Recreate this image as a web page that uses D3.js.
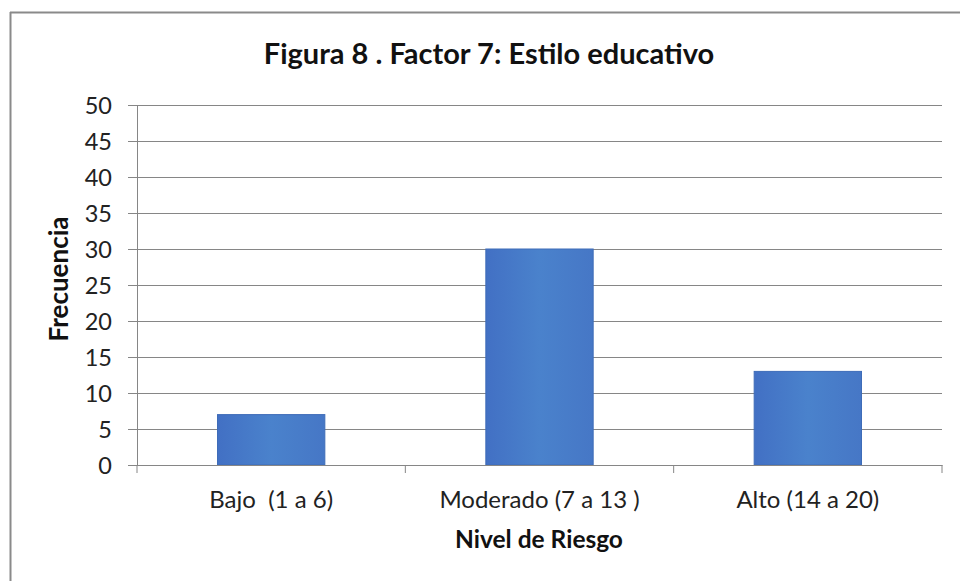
<!DOCTYPE html>
<html><head><meta charset="utf-8">
<script src="https://cdn.jsdelivr.net/npm/d3@7"></script>
<style>body{margin:0;background:#fff} text{white-space:pre}</style>
</head><body>
<svg id="c" width="960" height="581"></svg>
<script>
const categories = ["Bajo  (1 a 6)", "Moderado (7 a 13 )", "Alto (14 a 20)"];
const values = [7, 30, 13];
const yTicks = [0, 5, 10, 15, 20, 25, 30, 35, 40, 45, 50];
const title = "Figura 8 . Factor 7: Estilo educativo";
const yLabel = "Frecuencia";
const xLabel = "Nivel de Riesgo";

const svg = d3.select("#c");
const font = "Lato, 'Open Sans', sans-serif";
const m = {left:137, right:942, top:105, bottom:465};

// frame (left and top edges visible)
svg.append("line").attr("x1",10.5).attr("x2",10.5).attr("y1",12).attr("y2",581).attr("stroke","#8a8a8a").attr("stroke-width",2);
svg.append("line").attr("x1",10).attr("x2",960).attr("y1",12.5).attr("y2",12.5).attr("stroke","#8a8a8a").attr("stroke-width",2);

const x = d3.scaleBand().domain(categories).range([m.left, m.right]).paddingInner(0.6).paddingOuter(0.3);
const xb = d3.scaleBand().domain(categories).range([m.left, m.right]);
const y = d3.scaleLinear().domain([0,50]).range([m.bottom, m.top]);

// gridlines + y axis
const yAxis = d3.axisLeft(y).tickValues(yTicks).tickSize(-(m.right-m.left)).tickPadding(25);
const gy = svg.append("g").attr("transform",`translate(${m.left},0)`).call(yAxis);
gy.select(".domain").attr("stroke","#868686");
gy.selectAll(".tick line").attr("stroke","#868686").attr("x1",-9);
gy.selectAll(".tick text").attr("font-family",font).attr("font-size",23.5).attr("fill","#222").attr("dy","0.34em");

// bars
const defs = svg.append("defs");
const grad = defs.append("linearGradient").attr("id","g").attr("x1",0).attr("x2",1).attr("y1",0).attr("y2",0);
grad.append("stop").attr("offset",0).attr("stop-color","#4270c4");
grad.append("stop").attr("offset",0.5).attr("stop-color","#4a82cc");
grad.append("stop").attr("offset",1).attr("stop-color","#4677c6");
svg.selectAll("rect.bar").data(values).join("rect").attr("class","bar")
  .attr("x",(d,i)=>x(categories[i])).attr("width",x.bandwidth())
  .attr("y",d=>y(d)).attr("height",d=>y(0)-y(d))
  .attr("fill","url(#g)").attr("stroke","#3e6cb8").attr("stroke-width",1);

// x axis
const xAxis = d3.axisBottom(xb).tickSize(0).tickPadding(26);
const gx = svg.append("g").attr("transform",`translate(0,${m.bottom})`).call(xAxis);
gx.select(".domain").attr("stroke","#868686");
gx.selectAll(".tick text").attr("font-family",font).attr("font-size",24).attr("fill","#222");
// category boundary ticks
const bounds = [m.left, ...categories.map(c=>xb(c)+xb.bandwidth())];
svg.selectAll("line.bt").data(bounds).join("line").attr("class","bt")
  .attr("x1",d=>d).attr("x2",d=>d).attr("y1",m.bottom).attr("y2",m.bottom+8).attr("stroke","#868686");

// titles
svg.append("text").attr("x",489).attr("y",64).attr("text-anchor","middle")
  .attr("font-family",font).attr("font-weight","bold").attr("font-size",29).attr("fill","#111").text(title);
svg.append("text").attr("transform","translate(68,279) rotate(-90)").attr("text-anchor","middle")
  .attr("font-family",font).attr("font-weight","bold").attr("font-size",26).attr("fill","#111").text(yLabel);
svg.append("text").attr("x",539).attr("y",548).attr("text-anchor","middle")
  .attr("font-family",font).attr("font-weight","bold").attr("font-size",24.5).attr("fill","#111").text(xLabel);
</script>
</body></html>
